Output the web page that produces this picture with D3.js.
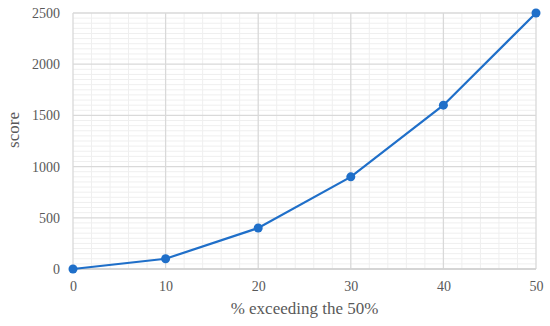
<!DOCTYPE html>
<html>
<head>
<meta charset="utf-8">
<script src="https://cdn.jsdelivr.net/npm/d3@7"></script>
<style>
html, body { margin: 0; padding: 0; background: #fff; }
svg { display: block; }
</style>
</head>
<body>
<script>
const xValues = [0, 10, 20, 30, 40, 50];
const scores = [0, 100, 400, 900, 1600, 2500];
const xTicks = [0, 10, 20, 30, 40, 50];
const yTicks = [0, 500, 1000, 1500, 2000, 2500];
const xTitle = "% exceeding the 50%";
const yTitle = "score";

const W = 550, H = 326;
const m = { left: 73, right: 14, top: 13, bottom: 57 };
const FONT = "'Liberation Serif', serif";

const svg = d3.select("body").append("svg").attr("width", W).attr("height", H);

const x = d3.scaleLinear().domain([0, 50]).range([m.left, W - m.right]);
const y = d3.scaleLinear().domain([0, 2500]).range([H - m.bottom, m.top]);

// minor grid
const g = svg.append("g");
g.selectAll("line.mx").data(d3.range(0, 50.001, 2).filter(v => v % 10 !== 0))
  .join("line").attr("x1", d => x(d)).attr("x2", d => x(d))
  .attr("y1", y(0)).attr("y2", y(2500)).attr("stroke", "#efefef").attr("stroke-width", 1);
g.selectAll("line.my").data(d3.range(0, 2500.001, 50).filter(v => v % 500 !== 0))
  .join("line").attr("y1", d => y(d)).attr("y2", d => y(d))
  .attr("x1", x(0)).attr("x2", x(50)).attr("stroke", "#efefef").attr("stroke-width", 1);
// major grid
g.append("g").selectAll("line").data(xTicks).join("line")
  .attr("x1", d => x(d)).attr("x2", d => x(d)).attr("y1", y(0)).attr("y2", y(2500))
  .attr("stroke", "#d9d9d9").attr("stroke-width", 1.3);
g.append("g").selectAll("line").data(yTicks).join("line")
  .attr("y1", d => y(d)).attr("y2", d => y(d)).attr("x1", x(0)).attr("x2", x(50))
  .attr("stroke", "#d9d9d9").attr("stroke-width", 1.3);

// axes
const xAxis = svg.append("g").attr("transform", `translate(0,${y(0)})`)
  .call(d3.axisBottom(x).tickValues(xTicks).tickSize(0).tickPadding(12).tickFormat(d3.format("d")));
const yAxis = svg.append("g").attr("transform", `translate(${x(0)},0)`)
  .call(d3.axisLeft(y).tickValues(yTicks).tickSize(0).tickPadding(13).tickFormat(d3.format("d")));
[xAxis, yAxis].forEach(a => {
  a.select(".domain").remove();
  a.selectAll("text").attr("fill", "#595959").style("font-family", FONT).style("font-size", "14px");
});
svg.append("line").attr("x1", x(0)).attr("x2", x(50)).attr("y1", y(0)).attr("y2", y(0))
  .attr("stroke", "#d0d0d0").attr("stroke-width", 1.3);

// titles
svg.append("text").attr("x", (x(0) + x(50)) / 2).attr("y", 314)
  .attr("text-anchor", "middle").attr("fill", "#595959")
  .style("font-family", FONT).style("font-size", "17px").text(xTitle);
svg.append("text").attr("transform", `translate(19,130) rotate(-90)`)
  .attr("text-anchor", "middle").attr("fill", "#595959")
  .style("font-family", FONT).style("font-size", "17px").text(yTitle);

// line and markers
const data = xValues.map((v, i) => ({ x: v, y: scores[i] }));
svg.append("path").datum(data)
  .attr("d", d3.line().x(d => x(d.x)).y(d => y(d.y)))
  .attr("fill", "none").attr("stroke", "#1f6fc9").attr("stroke-width", 2.2);
svg.selectAll("circle").data(data).join("circle")
  .attr("cx", d => x(d.x)).attr("cy", d => y(d.y)).attr("r", 4.5)
  .attr("fill", "#1f6fc9");
</script>
</body>
</html>
